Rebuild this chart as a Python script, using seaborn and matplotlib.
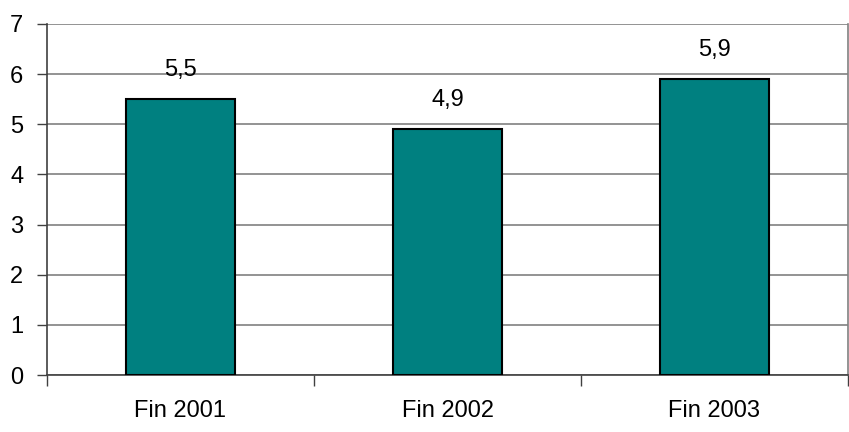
import matplotlib
matplotlib.use("Agg")
import matplotlib.pyplot as plt
import seaborn as sns
import pandas as pd
from matplotlib import font_manager

categories = ["Fin 2001", "Fin 2002", "Fin 2003"]
values = [5.5, 4.9, 5.9]
value_labels = ["5,5", "4,9", "5,9"]
yticks = [0, 1, 2, 3, 4, 5, 6, 7]

sns.set_style("white")
names = {f.name for f in font_manager.fontManager.ttflist}
fam = "Liberation Sans Narrow" if "Liberation Sans Narrow" in names else "Liberation Sans"
plt.rcParams["font.family"] = [fam, "DejaVu Sans"]
plt.rcParams["text.color"] = "black"
plt.rcParams["xtick.color"] = "black"
plt.rcParams["ytick.color"] = "black"

df = pd.DataFrame({"cat": categories, "val": values})

fig = plt.figure(figsize=(8.49, 4.32), dpi=100)
ax = fig.add_axes([47 / 849, 1 - 375 / 432, (848 - 47) / 849, (375 - 24) / 432])

sns.barplot(data=df, x="cat", y="val", color="#008080", saturation=1,
            width=0.405, edgecolor="black", linewidth=1.5, ax=ax, zorder=3)

ax.set_ylim(0, 7)
ax.set_xlim(-0.5, 2.5)
ax.set_yticks(yticks)
ax.set_yticklabels([str(t) for t in yticks], fontsize=17, color="black")
ax.yaxis.grid(True, color="#808080", linewidth=1.2, zorder=0)
ax.set_axisbelow(True)

ax.set_xticks([0, 1, 2])
ax.set_xticklabels(categories, fontsize=17, color="black")
ax.tick_params(axis="x", length=0, pad=18)
ax.tick_params(axis="y", length=7, width=1, color="#404040", pad=10, left=True)
ax.set_xticks([-0.5, 0.5, 1.5, 2.5], minor=True)
ax.tick_params(axis="x", which="minor", length=8, width=1, color="#404040", bottom=True)

ax.spines["top"].set_visible(False)
ax.spines["right"].set_color("#808080")
ax.spines["left"].set_color("#404040")
ax.spines["bottom"].set_color("#404040")
for s in ["left", "bottom", "right"]:
    ax.spines[s].set_linewidth(1.2)

for i, (v, lab) in enumerate(zip(values, value_labels)):
    ax.annotate(lab, (i, v), xytext=(0, 13), textcoords="offset points",
                ha="center", va="bottom", fontsize=17, color="black")

ax.set_xlabel("")
ax.set_ylabel("")
fig.savefig("out.png", dpi=100)
